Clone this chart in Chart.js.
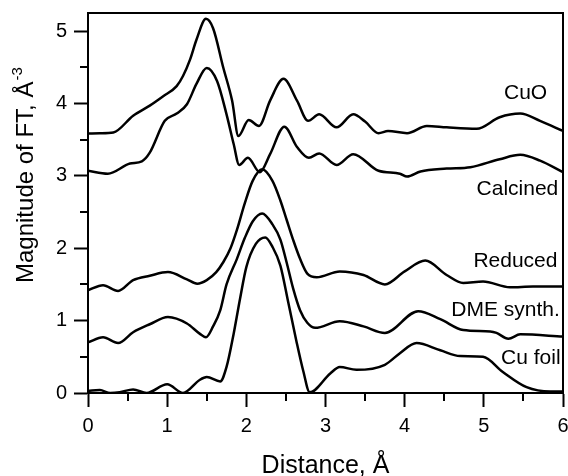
<!DOCTYPE html>
<html>
<head>
<meta charset="utf-8">
<script src="https://cdn.jsdelivr.net/npm/chart.js@4"></script>
<style>
html,body{margin:0;padding:0;background:#fff;}
#wrap{width:568px;height:476px;}
</style>
</head>
<body>
<div id="wrap"><canvas id="c" width="568" height="476"></canvas></div>
<script>
// ---- data ----
const seriesNames = ["CuO", "Calcined", "Reduced", "DME synth.", "Cu foil"];
const xTickLabels = ["0", "1", "2", "3", "4", "5", "6"];
const yTickLabels = ["0", "1", "2", "3", "4", "5"];

const cuoX = [0, 0.15, 0.32, 0.57, 0.78, 0.95, 1.12, 1.2, 1.29, 1.37, 1.49, 1.58, 1.71, 1.82, 1.9, 2.03, 2.16, 2.3, 2.47, 2.64, 2.78, 2.92, 3.14, 3.35, 3.5, 3.67, 3.79, 4.03, 4.28, 4.53, 4.91, 5.2, 5.46, 5.71, 6.0];
const cuoY = [3.585, 3.59, 3.6, 3.83, 3.97, 4.1, 4.24, 4.38, 4.61, 4.88, 5.17, 5.04, 4.49, 4.04, 3.55, 3.77, 3.69, 4.04, 4.34, 4.04, 3.76, 3.85, 3.67, 3.85, 3.75, 3.59, 3.62, 3.59, 3.69, 3.67, 3.65, 3.81, 3.86, 3.76, 3.62];

const calX = [0, 0.25, 0.53, 0.68, 0.78, 0.97, 1.12, 1.25, 1.37, 1.5, 1.63, 1.75, 1.84, 1.91, 2.02, 2.17, 2.3, 2.48, 2.64, 2.79, 2.92, 3.14, 3.35, 3.67, 3.94, 4.03, 4.2, 4.53, 4.83, 5.2, 5.46, 5.71, 6.0];
const calY = [3.07, 3.03, 3.17, 3.2, 3.32, 3.76, 3.86, 3.99, 4.27, 4.49, 4.31, 3.85, 3.44, 3.15, 3.25, 3.05, 3.3, 3.68, 3.4, 3.25, 3.31, 3.15, 3.3, 3.07, 3.03, 2.99, 3.06, 3.1, 3.12, 3.23, 3.29, 3.21, 3.05];

const redX = [0, 0.19, 0.38, 0.57, 0.78, 1.01, 1.25, 1.38, 1.5, 1.62, 1.71, 1.8, 1.88, 1.98, 2.08, 2.2, 2.33, 2.43, 2.51, 2.59, 2.68, 2.77, 2.89, 3.18, 3.48, 3.75, 4.0, 4.26, 4.53, 4.74, 4.99, 5.33, 5.62, 6.0];
const redY = [1.42, 1.49, 1.41, 1.56, 1.62, 1.67, 1.57, 1.51, 1.56, 1.67, 1.81, 2.0, 2.25, 2.62, 2.93, 3.09, 2.93, 2.66, 2.39, 2.12, 1.85, 1.65, 1.6, 1.68, 1.63, 1.5, 1.68, 1.83, 1.63, 1.52, 1.54, 1.46, 1.47, 1.47];

const dmeX = [0, 0.19, 0.38, 0.57, 0.78, 1.01, 1.25, 1.41, 1.49, 1.58, 1.67, 1.75, 1.88, 1.98, 2.08, 2.2, 2.33, 2.43, 2.51, 2.59, 2.68, 2.77, 2.87, 3.18, 3.48, 3.75, 4.17, 4.45, 4.74, 5.08, 5.16, 5.31, 5.46, 6.0];
const dmeY = [0.70, 0.77, 0.69, 0.84, 0.95, 1.05, 0.96, 0.82, 0.77, 0.92, 1.14, 1.5, 1.85, 2.14, 2.37, 2.48, 2.33, 2.12, 1.8, 1.45, 1.14, 0.97, 0.9, 0.99, 0.92, 0.83, 1.13, 1.02, 0.87, 0.85, 0.83, 0.75, 0.81, 0.78];

const cuX = [0, 0.15, 0.28, 0.4, 0.57, 0.74, 1.0, 1.2, 1.41, 1.5, 1.67, 1.75, 1.84, 1.92, 2.0, 2.12, 2.24, 2.33, 2.43, 2.53, 2.63, 2.72, 2.8, 3.06, 3.18, 3.39, 3.75, 3.94, 4.15, 4.45, 4.7, 4.99, 5.24, 5.54, 5.84, 6.0];
const cuY = [0.03, 0.04, 0.0, 0.01, 0.05, 0.0, 0.12, 0.0, 0.18, 0.22, 0.16, 0.36, 0.82, 1.3, 1.74, 2.06, 2.15, 2.02, 1.76, 1.25, 0.73, 0.3, 0.01, 0.27, 0.36, 0.32, 0.39, 0.55, 0.69, 0.59, 0.51, 0.5, 0.29, 0.08, 0.02, 0.02];

const xAxisTitle = "Distance, Å";
const yAxisTitle = "Magnitude of FT, Å";
const yAxisTitleSup = "-3";

// ---- chart ----
const FONT = "'Liberation Sans', Arial, sans-serif";
const allX = [cuoX, calX, redX, dmeX, cuX];
const allY = [cuoY, calY, redY, dmeY, cuY];
const datasets = seriesNames.map((n, i) => ({
  label: n,
  data: allX[i].map((x, j) => ({x: x, y: allY[i][j]})),
  borderColor: '#000',
  borderWidth: 2.5,
  pointRadius: 0,
  fill: false,
  cubicInterpolationMode: 'monotone'
}));

// label anchors (right-aligned, baseline) in data units
const labelPos = [
  {x: 5.80, y: 4.06},
  {x: 5.94, y: 2.73},
  {x: 5.93, y: 1.74},
  {x: 5.96, y: 1.07},
  {x: 5.97, y: 0.40}
];

const decor = {
  id: 'decor',
  afterDraw(chart) {
    const ctx = chart.ctx, a = chart.chartArea;
    const xs = chart.scales.x, ys = chart.scales.y;
    ctx.save();
    ctx.strokeStyle = '#000';
    ctx.lineWidth = 2;
    ctx.strokeRect(a.left, a.top, a.right - a.left, a.bottom - a.top);
    // minor ticks
    ctx.beginPath();
    for (let v = 0.5; v < 6; v += 1) {
      const px = Math.round(xs.getPixelForValue(v));
      ctx.moveTo(px, a.bottom); ctx.lineTo(px, a.bottom + 8);
    }
    for (let v = 0.5; v < 5.25; v += 1) {
      const py = Math.round(ys.getPixelForValue(v));
      ctx.moveTo(a.left, py); ctx.lineTo(a.left - 8, py);
    }
    ctx.stroke();
    // series labels
    ctx.fillStyle = '#000';
    ctx.font = '21px ' + FONT;
    ctx.textAlign = 'right';
    ctx.textBaseline = 'alphabetic';
    seriesNames.forEach((n, i) => {
      ctx.fillText(n, xs.getPixelForValue(labelPos[i].x), ys.getPixelForValue(labelPos[i].y));
    });
    // x title
    ctx.font = '25px ' + FONT;
    ctx.textAlign = 'center';
    ctx.fillText(xAxisTitle, (a.left + a.right) / 2, 473);
    // y title with superscript
    ctx.translate(33, 283);
    ctx.rotate(-Math.PI / 2);
    ctx.textAlign = 'left';
    ctx.font = '24px ' + FONT;
    ctx.fillText(yAxisTitle, 0, 0);
    const w = ctx.measureText(yAxisTitle).width;
    ctx.font = '15px ' + FONT;
    ctx.fillText(yAxisTitleSup, w + 1, -11);
    ctx.restore();
  }
};

new Chart(document.getElementById('c'), {
  type: 'line',
  data: {datasets: datasets},
  options: {
    responsive: false,
    animation: false,
    events: [],
    layout: {padding: {top: 13, right: 5, left: 0, bottom: 0}},
    plugins: {legend: {display: false}, tooltip: {enabled: false}},
    scales: {
      x: {
        type: 'linear', min: 0, max: 6,
        afterFit(s) { s.height = 83; s.paddingLeft = 0; s.paddingRight = 0; s.paddingTop = 0; s.paddingBottom = 0; },
        border: {display: true, color: '#000', width: 2},
        grid: {drawOnChartArea: false, drawTicks: true, tickLength: 14, tickWidth: 2, tickColor: '#000'},
        ticks: {stepSize: 1, includeBounds: false, color: '#000', padding: 7, font: {family: FONT, size: 20},
                callback: (v) => xTickLabels[Math.round(v)] ?? ''}
      },
      y: {
        type: 'linear', min: 0, max: 5.25,
        afterFit(s) { s.width = 88; s.paddingLeft = 0; s.paddingRight = 0; s.paddingTop = 0; s.paddingBottom = 0; },
        afterBuildTicks(s) { s.ticks = s.ticks.filter(t => Math.abs(t.value - Math.round(t.value)) < 1e-9); },
        border: {display: true, color: '#000', width: 2},
        grid: {drawOnChartArea: false, drawTicks: true, tickLength: 14, tickWidth: 2, tickColor: '#000'},
        ticks: {stepSize: 1, includeBounds: false, color: '#000', padding: 7, font: {family: FONT, size: 20},
                callback: (v) => yTickLabels[Math.round(v)] ?? ''}
      }
    }
  },
  plugins: [decor]
});
</script>
</body>
</html>
